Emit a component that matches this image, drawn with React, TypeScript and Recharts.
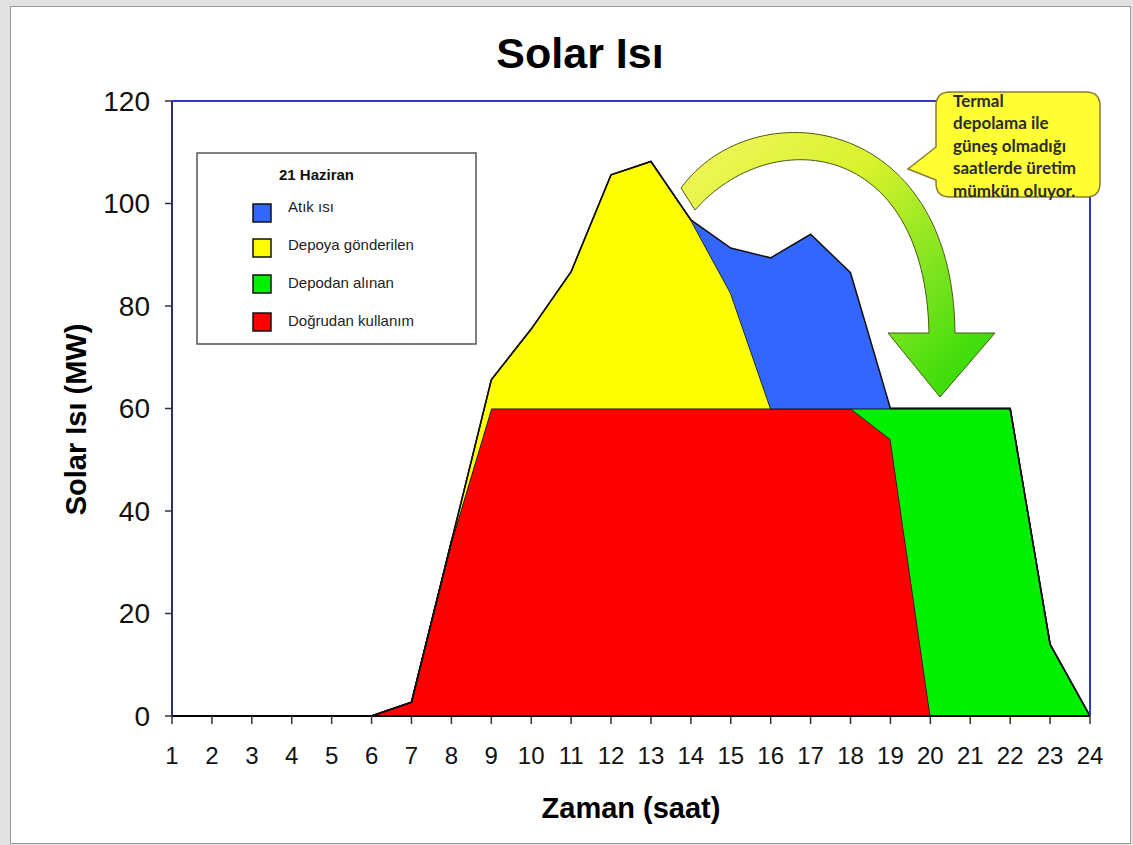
import React from 'react';
import { AreaChart, Area, XAxis, YAxis, ReferenceLine } from 'recharts';

const FONT = '"Liberation Sans", Arial, sans-serif';

const HOURS = [1, 2, 3, 4, 5, 6, 7, 8, 9, 10, 11, 12, 13, 14, 15, 16, 17, 18, 19, 20, 21, 22, 23, 24];
const Y_TICKS = [0, 20, 40, 60, 80, 100, 120];

// MW per hour (stacked from the bottom up)
const DIRECT = [0, 0, 0, 0, 0, 0, 2.7, 34, 60, 60, 60, 60, 60, 60, 60, 60, 60, 60, 54, 0, 0, 0, 0, 0];
const FROM_STORAGE = [0, 0, 0, 0, 0, 0, 0, 0, 0, 0, 0, 0, 0, 0, 0, 0, 0, 0, 6, 60, 60, 60, 14, 0];
const TO_STORAGE = [0, 0, 0, 0, 0, 0, 0, 0, 5.6, 15.5, 26.7, 45.6, 48.2, 36.8, 22.5, 0, 0, 0, 0, 0, 0, 0, 0, 0];
const WASTE = [0, 0, 0, 0, 0, 0, 0, 0, 0, 0, 0, 0, 0, 0, 8.8, 29.4, 34, 26.5, 0, 0, 0, 0, 0, 0];

const SERIES = [
  { key: 'direct', name: 'Doğrudan kullanım', color: '#ff0000' },
  { key: 'fromStorage', name: 'Depodan alınan', color: '#00f000' },
  { key: 'toStorage', name: 'Depoya gönderilen', color: '#ffff00' },
  { key: 'waste', name: 'Atık ısı', color: '#3366ff' },
];

const LEGEND_ORDER = ['waste', 'toStorage', 'fromStorage', 'direct'];

const CALLOUT_LINES = ['Termal', 'depolama ile', 'güneş olmadığı', 'saatlerde üretim', 'mümkün oluyor.'];

const data = HOURS.map((hour, i) => ({
  hour,
  direct: DIRECT[i],
  fromStorage: FROM_STORAGE[i],
  toStorage: TO_STORAGE[i],
  waste: WASTE[i],
}));

function YLabel(props: any) {
  const vb = props.viewBox || { x: 0, y: 101, width: 172, height: 615 };
  const x = vb.x + 86;
  const y = vb.y + vb.height / 2 + 11;
  return (
    <text
      x={x}
      y={y}
      transform={`rotate(-90 ${x} ${y})`}
      textAnchor="middle"
      fontFamily={FONT}
      fontSize={29}
      fontWeight="bold"
      fill="#000"
    >
      Solar Isı (MW)
    </text>
  );
}

function Overlay() {
  const legendItems = LEGEND_ORDER.map((k) => SERIES.find((s) => s.key === k)!);
  const squareY = [213, 248, 284, 322];
  const textY = [212, 250, 288, 326];
  return (
    <svg
      width={1133}
      height={845}
      style={{ position: 'absolute', left: 0, top: 0, pointerEvents: 'none' }}
    >
      <defs>
        <linearGradient id="arrowGrad" gradientUnits="userSpaceOnUse" x1={690} y1={150} x2={950} y2={395}>
          <stop offset="0" stopColor="#f0f65a" />
          <stop offset="0.4" stopColor="#d8f22c" />
          <stop offset="0.72" stopColor="#80e420" />
          <stop offset="1" stopColor="#36dc08" />
        </linearGradient>
      </defs>

      <text x={580} y={68} textAnchor="middle" fontFamily={FONT} fontSize={43} fontWeight="bold" fill="#000">
        Solar Isı
      </text>

      {/* legend */}
      <rect x={197} y={153} width={279} height={191} fill="#fff" stroke="#555" strokeWidth={1.5} />
      <text x={279} y={180} fontFamily={FONT} fontSize={15} fontWeight="bold" fill="#111">
        21 Haziran
      </text>
      {legendItems.map((s, i) => (
        <g key={s.key}>
          <rect x={253} y={squareY[i] - 9} width={18} height={18} fill={s.color} stroke="#111" strokeWidth={1.5} />
          <text x={288} y={textY[i]} fontFamily={FONT} fontSize={15} fill="#222">
            {s.name}
          </text>
        </g>
      ))}

      {/* curved arrow */}
      <path
        d="M 681 188 C 752 90, 953 112, 955 333 L 995 333 L 940 397 L 888 333 L 929 333 C 925 138, 770 124, 695 210 Z"
        fill="url(#arrowGrad)"
        stroke="#4a5a10"
        strokeWidth={1}
      />

      {/* callout */}
      <path
        d="M 950 92 H 1086 Q 1100 92 1100 106 V 183 Q 1100 197 1086 197 H 950 Q 936 197 936 183 V 180 L 908 169 L 936 147 V 106 Q 936 92 950 92 Z"
        fill="#ffff33"
        stroke="#8a7a30"
        strokeWidth={1.5}
      />
      {CALLOUT_LINES.map((line, i) => (
        <text
          key={line}
          x={953}
          y={106.5 + i * 22.5}
          fontFamily='Lato, "Liberation Sans", sans-serif'
          fontSize={17}
          fontWeight="bold"
          fill="#2b2b2b"
        >
          {line}
        </text>
      ))}
    </svg>
  );
}

export default function App() {
  return (
    <div style={{ position: 'absolute', left: 0, top: 0, width: 1133, height: 845, background: '#e2e2e2' }}>
      <div
        style={{
          position: 'absolute',
          left: 10,
          top: 6,
          width: 1121,
          height: 838,
          boxSizing: 'border-box',
          border: '1px solid #9a9a9a',
          background: '#fff',
        }}
      />
      <div style={{ position: 'absolute', left: 0, top: 0 }}>
        <AreaChart width={1133} height={845} data={data} margin={{ top: 101, right: 43, bottom: 0, left: 0 }}>
          <XAxis
            dataKey="hour"
            type="number"
            domain={[1, 24]}
            ticks={HOURS}
            interval={0}
            height={129}
            tickSize={8}
            tickMargin={23}
            axisLine={{ stroke: '#000', strokeWidth: 2 }}
            tickLine={{ stroke: '#333', strokeWidth: 1.5 }}
            tick={{ fontSize: 24, fill: '#111', fontFamily: FONT }}
            label={{
              value: 'Zaman (saat)',
              position: 'insideBottom',
              offset: 27,
              fontSize: 29,
              fontWeight: 'bold',
              fill: '#000',
              fontFamily: FONT,
            }}
          />
          <YAxis
            type="number"
            domain={[0, 120]}
            ticks={Y_TICKS}
            interval={0}
            width={172}
            tickSize={7}
            tickMargin={15}
            axisLine={{ stroke: '#2e2e6e', strokeWidth: 2 }}
            tickLine={{ stroke: '#333', strokeWidth: 1.5 }}
            tick={{ fontSize: 28, fill: '#111', fontFamily: FONT }}
            label={<YLabel />}
          />
          {SERIES.map((s) => (
            <Area
              key={s.key}
              type="linear"
              dataKey={s.key}
              name={s.name}
              stackId="heat"
              fill={s.color}
              fillOpacity={1}
              stroke="#111"
              strokeWidth={1.5}
              dot={false}
              activeDot={false}
              isAnimationActive={false}
            />
          ))}
          <ReferenceLine y={120} stroke="#3232d2" strokeWidth={2} />
          <ReferenceLine x={24} stroke="#3232d2" strokeWidth={2} />
        </AreaChart>
      </div>
      <Overlay />
    </div>
  );
}
